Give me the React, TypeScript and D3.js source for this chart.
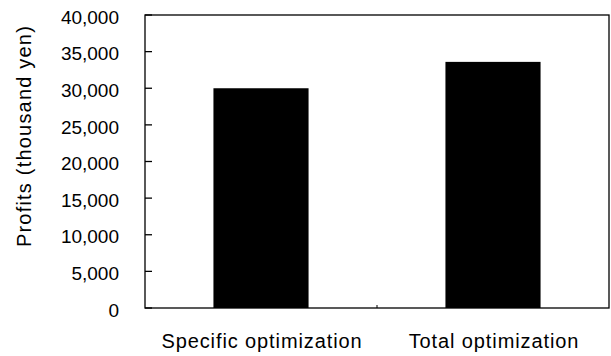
import React from "react";
import * as d3 from "d3";

const categories = ["Specific optimization", "Total optimization"];
const profits = [30000, 33600];
const yTicks = [0, 5000, 10000, 15000, 20000, 25000, 30000, 35000, 40000];
const yLabel = "Profits (thousand yen)";

const W = 611;
const H = 356;
const M = { left: 145, right: 2, top: 15, bottom: 48 };
const FONT = "'Liberation Sans', Arial, sans-serif";

export default function App() {
  const x = d3
    .scaleBand<string>()
    .domain(categories)
    .range([M.left, W - M.right])
    .paddingInner(0.59)
    .paddingOuter(0.295);
  const xOuter = d3.scaleBand<string>().domain(categories).range([M.left, W - M.right]);
  const y = d3.scaleLinear().domain([0, 40000]).range([H - M.bottom, M.top]);
  const fmt = d3.format(",");
  const y0 = y(0);
  return (
    <svg
      width={W}
      height={H}
      style={{ position: "absolute", left: 0, top: 0, background: "#fff" }}
    >
      <rect x={0} y={0} width={W} height={H} fill="#fff" />
      {categories.map((c, i) => (
        <rect
          key={c}
          x={x(c)}
          y={y(profits[i])}
          width={x.bandwidth()}
          height={y0 - y(profits[i])}
          fill="#000"
        />
      ))}
      <rect
        x={M.left}
        y={M.top}
        width={W - M.right - M.left}
        height={y0 - M.top}
        fill="none"
        stroke="#000"
        strokeWidth={1.3}
      />
      {yTicks.map((t) => (
        <g key={t}>
          <line x1={M.left} x2={M.left + 7} y1={y(t)} y2={y(t)} stroke="#000" strokeWidth={1.3} />
          <text
            x={119}
            y={y(t) + 2}
            dy="0.35em"
            textAnchor="end"
            fontFamily={FONT}
            fontSize={19}
            fill="#000"
          >
            {fmt(t)}
          </text>
        </g>
      ))}
      {categories.slice(1).map((c) => (
        <line key={c} x1={xOuter(c)} x2={xOuter(c)} y1={y0} y2={y0 - 3} stroke="#000" strokeWidth={1} />
      ))}
      {categories.map((c) => (
        <text
          key={c}
          x={(x(c) as number) + x.bandwidth() / 2 + 1}
          y={348}
          textAnchor="middle"
          fontFamily={FONT}
          fontSize={20}
          letterSpacing={0.9}
          fill="#000"
        >
          {c}
        </text>
      ))}
      <text
        transform={`translate(31, 136) rotate(-90)`}
        textAnchor="middle"
        fontFamily={FONT}
        fontSize={20}
        letterSpacing={1.2}
        fill="#000"
      >
        {yLabel}
      </text>
    </svg>
  );
}
